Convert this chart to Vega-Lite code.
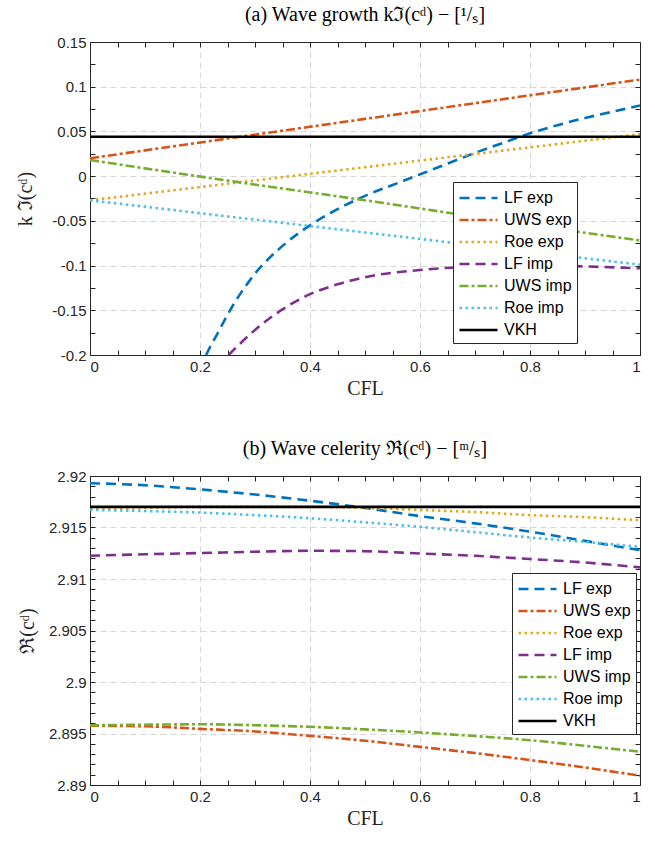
{
  "$schema": "https://vega.github.io/schema/vega-lite/v6.json",
  "padding": {"left": 15, "top": 5, "right": 5, "bottom": 5},
  "background": "white",
  "spacing": 41,
  "resolve": {"scale": {"color": "independent", "strokeDash": "independent", "strokeWidth": "independent"}, "legend": {"color": "independent", "strokeDash": "independent"}},
  "config": {
    "view": {"stroke": null},
    "axis": {
      "labelFont": "Liberation Sans", "labelFontSize": 15, "labelColor": "#262626",
      "titleFont": "Liberation Serif", "titleFontSize": 20, "titleFontWeight": "normal", "titleColor": "#262626",
      "domainColor": "#262626", "domainWidth": 1, "tickColor": "#262626", "tickWidth": 1,
      "tickSize": -5, "labelPadding": 9,
      "gridColor": "#d6d6d6", "gridDash": [6, 4], "gridWidth": 1
    },
    "title": {"font": "Liberation Serif", "fontSize": 20, "fontWeight": "normal", "color": "#000000", "anchor": "middle", "frame": "group", "offset": 10},
    "legend": {"labelFont": "Liberation Sans", "labelFontSize": 16, "labelColor": "#000000"}
  },
  "datasets": {
    "growth": [
      {"series": "LF exp", "cfl": 0.211, "val": -0.2},
      {"series": "LF exp", "cfl": 0.22, "val": -0.189},
      {"series": "LF exp", "cfl": 0.23, "val": -0.178},
      {"series": "LF exp", "cfl": 0.25, "val": -0.155},
      {"series": "LF exp", "cfl": 0.275, "val": -0.13},
      {"series": "LF exp", "cfl": 0.3, "val": -0.109},
      {"series": "LF exp", "cfl": 0.35, "val": -0.078},
      {"series": "LF exp", "cfl": 0.4, "val": -0.055},
      {"series": "LF exp", "cfl": 0.45, "val": -0.037},
      {"series": "LF exp", "cfl": 0.5, "val": -0.022},
      {"series": "LF exp", "cfl": 0.55, "val": -0.01},
      {"series": "LF exp", "cfl": 0.6, "val": 0.002},
      {"series": "LF exp", "cfl": 0.65, "val": 0.014},
      {"series": "LF exp", "cfl": 0.7, "val": 0.026},
      {"series": "LF exp", "cfl": 0.75, "val": 0.037},
      {"series": "LF exp", "cfl": 0.8, "val": 0.048},
      {"series": "LF exp", "cfl": 0.85, "val": 0.057},
      {"series": "LF exp", "cfl": 0.9, "val": 0.065},
      {"series": "LF exp", "cfl": 0.95, "val": 0.072},
      {"series": "LF exp", "cfl": 1.0, "val": 0.079},
      {"series": "UWS exp", "cfl": 0, "val": 0.02},
      {"series": "UWS exp", "cfl": 0.25, "val": 0.042},
      {"series": "UWS exp", "cfl": 0.5, "val": 0.064},
      {"series": "UWS exp", "cfl": 0.75, "val": 0.086},
      {"series": "UWS exp", "cfl": 1.0, "val": 0.108},
      {"series": "Roe exp", "cfl": 0, "val": -0.027},
      {"series": "Roe exp", "cfl": 0.25, "val": -0.0085},
      {"series": "Roe exp", "cfl": 0.5, "val": 0.01},
      {"series": "Roe exp", "cfl": 0.75, "val": 0.0285},
      {"series": "Roe exp", "cfl": 1.0, "val": 0.047},
      {"series": "LF imp", "cfl": 0.252, "val": -0.2},
      {"series": "LF imp", "cfl": 0.27, "val": -0.189},
      {"series": "LF imp", "cfl": 0.3, "val": -0.172},
      {"series": "LF imp", "cfl": 0.35, "val": -0.149},
      {"series": "LF imp", "cfl": 0.4, "val": -0.132},
      {"series": "LF imp", "cfl": 0.45, "val": -0.121},
      {"series": "LF imp", "cfl": 0.5, "val": -0.113},
      {"series": "LF imp", "cfl": 0.6, "val": -0.105},
      {"series": "LF imp", "cfl": 0.7, "val": -0.101},
      {"series": "LF imp", "cfl": 0.8, "val": -0.0995},
      {"series": "LF imp", "cfl": 0.9, "val": -0.101},
      {"series": "LF imp", "cfl": 1.0, "val": -0.103},
      {"series": "UWS imp", "cfl": 0, "val": 0.018},
      {"series": "UWS imp", "cfl": 0.25, "val": -0.005},
      {"series": "UWS imp", "cfl": 0.5, "val": -0.027},
      {"series": "UWS imp", "cfl": 0.75, "val": -0.05},
      {"series": "UWS imp", "cfl": 1.0, "val": -0.072},
      {"series": "Roe imp", "cfl": 0, "val": -0.027},
      {"series": "Roe imp", "cfl": 0.25, "val": -0.045},
      {"series": "Roe imp", "cfl": 0.5, "val": -0.063},
      {"series": "Roe imp", "cfl": 0.75, "val": -0.081},
      {"series": "Roe imp", "cfl": 1.0, "val": -0.099},
      {"series": "VKH", "cfl": 0, "val": 0.044},
      {"series": "VKH", "cfl": 1.0, "val": 0.044}
    ],
    "celerity": [
      {"series": "LF exp", "cfl": 0, "val": 2.9193},
      {"series": "LF exp", "cfl": 0.1, "val": 2.9191},
      {"series": "LF exp", "cfl": 0.2, "val": 2.9187},
      {"series": "LF exp", "cfl": 0.3, "val": 2.9182},
      {"series": "LF exp", "cfl": 0.4, "val": 2.9176},
      {"series": "LF exp", "cfl": 0.5, "val": 2.9169},
      {"series": "LF exp", "cfl": 0.6, "val": 2.9161},
      {"series": "LF exp", "cfl": 0.7, "val": 2.9154},
      {"series": "LF exp", "cfl": 0.8, "val": 2.9146},
      {"series": "LF exp", "cfl": 0.9, "val": 2.9137},
      {"series": "LF exp", "cfl": 1.0, "val": 2.9128},
      {"series": "UWS exp", "cfl": 0, "val": 2.89575},
      {"series": "UWS exp", "cfl": 0.1, "val": 2.8957},
      {"series": "UWS exp", "cfl": 0.2, "val": 2.89545},
      {"series": "UWS exp", "cfl": 0.3, "val": 2.8952},
      {"series": "UWS exp", "cfl": 0.4, "val": 2.89477},
      {"series": "UWS exp", "cfl": 0.5, "val": 2.8943},
      {"series": "UWS exp", "cfl": 0.6, "val": 2.8937},
      {"series": "UWS exp", "cfl": 0.7, "val": 2.8931},
      {"series": "UWS exp", "cfl": 0.8, "val": 2.89242},
      {"series": "UWS exp", "cfl": 0.9, "val": 2.8917},
      {"series": "UWS exp", "cfl": 1.0, "val": 2.8909},
      {"series": "Roe exp", "cfl": 0, "val": 2.9168},
      {"series": "Roe exp", "cfl": 0.1, "val": 2.9169},
      {"series": "Roe exp", "cfl": 0.2, "val": 2.917},
      {"series": "Roe exp", "cfl": 0.3, "val": 2.917},
      {"series": "Roe exp", "cfl": 0.4, "val": 2.917},
      {"series": "Roe exp", "cfl": 0.5, "val": 2.9169},
      {"series": "Roe exp", "cfl": 0.6, "val": 2.9167},
      {"series": "Roe exp", "cfl": 0.7, "val": 2.9165},
      {"series": "Roe exp", "cfl": 0.8, "val": 2.9162},
      {"series": "Roe exp", "cfl": 0.9, "val": 2.916},
      {"series": "Roe exp", "cfl": 1.0, "val": 2.9157},
      {"series": "LF imp", "cfl": 0, "val": 2.91226},
      {"series": "LF imp", "cfl": 0.1, "val": 2.9124},
      {"series": "LF imp", "cfl": 0.2, "val": 2.91252},
      {"series": "LF imp", "cfl": 0.3, "val": 2.91265},
      {"series": "LF imp", "cfl": 0.4, "val": 2.91274},
      {"series": "LF imp", "cfl": 0.5, "val": 2.9127},
      {"series": "LF imp", "cfl": 0.6, "val": 2.91248},
      {"series": "LF imp", "cfl": 0.7, "val": 2.91225},
      {"series": "LF imp", "cfl": 0.8, "val": 2.91194},
      {"series": "LF imp", "cfl": 0.9, "val": 2.9116},
      {"series": "LF imp", "cfl": 1.0, "val": 2.91113},
      {"series": "UWS imp", "cfl": 0, "val": 2.8958},
      {"series": "UWS imp", "cfl": 0.1, "val": 2.89585},
      {"series": "UWS imp", "cfl": 0.2, "val": 2.8959},
      {"series": "UWS imp", "cfl": 0.3, "val": 2.8958},
      {"series": "UWS imp", "cfl": 0.4, "val": 2.89565},
      {"series": "UWS imp", "cfl": 0.5, "val": 2.8954},
      {"series": "UWS imp", "cfl": 0.6, "val": 2.8951},
      {"series": "UWS imp", "cfl": 0.7, "val": 2.89475},
      {"series": "UWS imp", "cfl": 0.8, "val": 2.89435},
      {"series": "UWS imp", "cfl": 0.9, "val": 2.8938},
      {"series": "UWS imp", "cfl": 1.0, "val": 2.89323},
      {"series": "Roe imp", "cfl": 0, "val": 2.91671},
      {"series": "Roe imp", "cfl": 0.1, "val": 2.9166},
      {"series": "Roe imp", "cfl": 0.2, "val": 2.91645},
      {"series": "Roe imp", "cfl": 0.3, "val": 2.9162},
      {"series": "Roe imp", "cfl": 0.4, "val": 2.9159},
      {"series": "Roe imp", "cfl": 0.5, "val": 2.9155},
      {"series": "Roe imp", "cfl": 0.6, "val": 2.91506},
      {"series": "Roe imp", "cfl": 0.7, "val": 2.91455},
      {"series": "Roe imp", "cfl": 0.8, "val": 2.91403},
      {"series": "Roe imp", "cfl": 0.9, "val": 2.9136},
      {"series": "Roe imp", "cfl": 1.0, "val": 2.91313},
      {"series": "VKH", "cfl": 0, "val": 2.917},
      {"series": "VKH", "cfl": 1.0, "val": 2.917}
    ]
  },
  "vconcat": [
    {
      "width": 550, "height": 313,
      "title": {"text": "(a) Wave growth kℑ(cᵈ) − [¹/ₛ]"},
      "data": {"name": "growth"},
      "resolve": {"axis": {"x": "independent", "y": "independent"}},
      "layer": [
        {
          "mark": {"type": "line", "interpolate": "monotone", "clip": true},
          "encoding": {
            "x": {"field": "cfl", "type": "quantitative", "scale": {"domain": [0, 1], "nice": false, "zero": false},
              "axis": {"orient": "bottom", "values": [0, 0.2, 0.4, 0.6, 0.8, 1], "format": "~g", "grid": true, "title": "CFL", "titlePadding": 4}},
            "y": {"field": "val", "type": "quantitative", "scale": {"domain": [-0.2, 0.15], "nice": false, "zero": false},
              "axis": {"orient": "left", "values": [-0.2, -0.15, -0.1, -0.05, 0, 0.05, 0.1, 0.15], "labelExpr": "replace(format(datum.value, '.2~f'), '−', '-')", "grid": true, "title": "k ℑ(cᵈ)", "titlePadding": 16}},
            "color": {"field": "series", "type": "nominal",
              "scale": {"domain": ["LF exp", "UWS exp", "Roe exp", "LF imp", "UWS imp", "Roe imp", "VKH"], "range": ["#0072BD", "#D95319", "#E3A81F", "#7E2F8E", "#77AC30", "#4DBEEE", "#000000"]},
              "legend": {"title": null, "orient": "none", "legendX": 363, "legendY": 140, "symbolType": "M-1,0H3", "symbolSize": 361, "symbolStrokeWidth": 2.5, "strokeColor": "#262626", "fillColor": "white", "padding": 5, "rowPadding": 3, "labelOffset": 24, "labelFontSize": 16, "labelFont": "Liberation Sans"}},
            "strokeDash": {"field": "series", "type": "nominal",
              "scale": {"domain": ["LF exp", "UWS exp", "Roe exp", "LF imp", "UWS imp", "Roe imp", "VKH"], "range": [[10, 6], [9, 3, 3, 3], [2.5, 3.5], [10, 6], [9, 3, 3, 3], [2.5, 3.5], [1, 0]]},
              "legend": {"title": null, "orient": "none", "legendX": 363, "legendY": 140, "symbolType": "M-1,0H3", "symbolSize": 361, "symbolStrokeWidth": 2.5, "strokeColor": "#262626", "fillColor": "white", "padding": 5, "rowPadding": 3, "labelOffset": 24, "labelFontSize": 16, "labelFont": "Liberation Sans"}},
            "strokeWidth": {"field": "series", "type": "nominal",
              "scale": {"domain": ["LF exp", "UWS exp", "Roe exp", "LF imp", "UWS imp", "Roe imp", "VKH"], "range": [2.6, 2.6, 2.6, 2.6, 2.6, 2.6, 1.6]}, "legend": null}
          }
        },
        {
          "mark": {"type": "line", "opacity": 0},
          "encoding": {
            "x": {"field": "cfl", "type": "quantitative", "scale": {"domain": [0, 1], "nice": false, "zero": false},
              "axis": {"orient": "top", "values": [0, 0.05, 0.1, 0.15, 0.2, 0.25, 0.3, 0.35, 0.4, 0.45, 0.5, 0.55, 0.6, 0.65, 0.7, 0.75, 0.8, 0.85, 0.9, 0.95, 1], "labels": false, "grid": false, "title": null}},
            "y": {"field": "val", "type": "quantitative", "scale": {"domain": [-0.2, 0.15], "nice": false, "zero": false},
              "axis": {"orient": "right", "values": [-0.2, -0.175, -0.15, -0.125, -0.1, -0.075, -0.05, -0.025, 0, 0.025, 0.05, 0.075, 0.1, 0.125, 0.15], "labels": false, "grid": false, "title": null}},
            "detail": {"field": "series"}
          }
        },
        {
          "mark": {"type": "line", "opacity": 0},
          "encoding": {
            "x": {"field": "cfl", "type": "quantitative", "scale": {"domain": [0, 1], "nice": false, "zero": false},
              "axis": {"orient": "bottom", "values": [0.05, 0.1, 0.15, 0.25, 0.3, 0.35, 0.45, 0.5, 0.55, 0.65, 0.7, 0.75, 0.85, 0.9, 0.95], "labels": false, "grid": false, "title": null}},
            "y": {"field": "val", "type": "quantitative", "scale": {"domain": [-0.2, 0.15], "nice": false, "zero": false},
              "axis": {"orient": "left", "values": [-0.175, -0.125, -0.075, -0.025, 0.025, 0.075, 0.125], "labels": false, "grid": false, "title": null}},
            "detail": {"field": "series"}
          }
        }
      ]
    },
    {
      "width": 550, "height": 309,
      "title": {"text": "(b) Wave celerity ℜ(cᵈ) − [ᵐ/ₛ]"},
      "data": {"name": "celerity"},
      "resolve": {"axis": {"x": "independent", "y": "independent"}},
      "layer": [
        {
          "mark": {"type": "line", "interpolate": "monotone", "clip": true},
          "encoding": {
            "x": {"field": "cfl", "type": "quantitative", "scale": {"domain": [0, 1], "nice": false, "zero": false},
              "axis": {"orient": "bottom", "values": [0, 0.2, 0.4, 0.6, 0.8, 1], "format": "~g", "grid": true, "title": "CFL", "titlePadding": 4}},
            "y": {"field": "val", "type": "quantitative", "scale": {"domain": [2.89, 2.92], "nice": false, "zero": false},
              "axis": {"orient": "left", "values": [2.89, 2.895, 2.9, 2.905, 2.91, 2.915, 2.92], "format": ".4~g", "grid": true, "title": "ℜ(cᵈ)", "titlePadding": 11}},
            "color": {"field": "series", "type": "nominal",
              "scale": {"domain": ["LF exp", "UWS exp", "Roe exp", "LF imp", "UWS imp", "Roe imp", "VKH"], "range": ["#0072BD", "#D95319", "#E3A81F", "#7E2F8E", "#77AC30", "#4DBEEE", "#000000"]},
              "legend": {"title": null, "orient": "none", "legendX": 422, "legendY": 97, "symbolType": "M-1,0H3", "symbolSize": 361, "symbolStrokeWidth": 2.5, "strokeColor": "#262626", "fillColor": "white", "padding": 5, "rowPadding": 3, "labelOffset": 24, "labelFontSize": 16, "labelFont": "Liberation Sans"}},
            "strokeDash": {"field": "series", "type": "nominal",
              "scale": {"domain": ["LF exp", "UWS exp", "Roe exp", "LF imp", "UWS imp", "Roe imp", "VKH"], "range": [[10, 6], [9, 3, 3, 3], [2.5, 3.5], [10, 6], [9, 3, 3, 3], [2.5, 3.5], [1, 0]]},
              "legend": {"title": null, "orient": "none", "legendX": 422, "legendY": 97, "symbolType": "M-1,0H3", "symbolSize": 361, "symbolStrokeWidth": 2.5, "strokeColor": "#262626", "fillColor": "white", "padding": 5, "rowPadding": 3, "labelOffset": 24, "labelFontSize": 16, "labelFont": "Liberation Sans"}},
            "strokeWidth": {"field": "series", "type": "nominal",
              "scale": {"domain": ["LF exp", "UWS exp", "Roe exp", "LF imp", "UWS imp", "Roe imp", "VKH"], "range": [2.6, 2.6, 2.6, 2.6, 2.6, 2.6, 1.6]}, "legend": null}
          }
        },
        {
          "mark": {"type": "line", "opacity": 0},
          "encoding": {
            "x": {"field": "cfl", "type": "quantitative", "scale": {"domain": [0, 1], "nice": false, "zero": false},
              "axis": {"orient": "top", "values": [0, 0.05, 0.1, 0.15, 0.2, 0.25, 0.3, 0.35, 0.4, 0.45, 0.5, 0.55, 0.6, 0.65, 0.7, 0.75, 0.8, 0.85, 0.9, 0.95, 1], "labels": false, "grid": false, "title": null}},
            "y": {"field": "val", "type": "quantitative", "scale": {"domain": [2.89, 2.92], "nice": false, "zero": false},
              "axis": {"orient": "right", "values": [2.89, 2.891, 2.892, 2.893, 2.894, 2.895, 2.896, 2.897, 2.898, 2.899, 2.9, 2.901, 2.902, 2.903, 2.904, 2.905, 2.906, 2.907, 2.908, 2.909, 2.91, 2.911, 2.912, 2.913, 2.914, 2.915, 2.916, 2.917, 2.918, 2.919, 2.92], "labels": false, "grid": false, "title": null}},
            "detail": {"field": "series"}
          }
        },
        {
          "mark": {"type": "line", "opacity": 0},
          "encoding": {
            "x": {"field": "cfl", "type": "quantitative", "scale": {"domain": [0, 1], "nice": false, "zero": false},
              "axis": {"orient": "bottom", "values": [0.05, 0.1, 0.15, 0.25, 0.3, 0.35, 0.45, 0.5, 0.55, 0.65, 0.7, 0.75, 0.85, 0.9, 0.95], "labels": false, "grid": false, "title": null}},
            "y": {"field": "val", "type": "quantitative", "scale": {"domain": [2.89, 2.92], "nice": false, "zero": false},
              "axis": {"orient": "left", "values": [2.891, 2.892, 2.893, 2.894, 2.896, 2.897, 2.898, 2.899, 2.901, 2.902, 2.903, 2.904, 2.906, 2.907, 2.908, 2.909, 2.911, 2.912, 2.913, 2.914, 2.916, 2.917, 2.918, 2.919], "labels": false, "grid": false, "title": null}},
            "detail": {"field": "series"}
          }
        }
      ]
    }
  ]
}
